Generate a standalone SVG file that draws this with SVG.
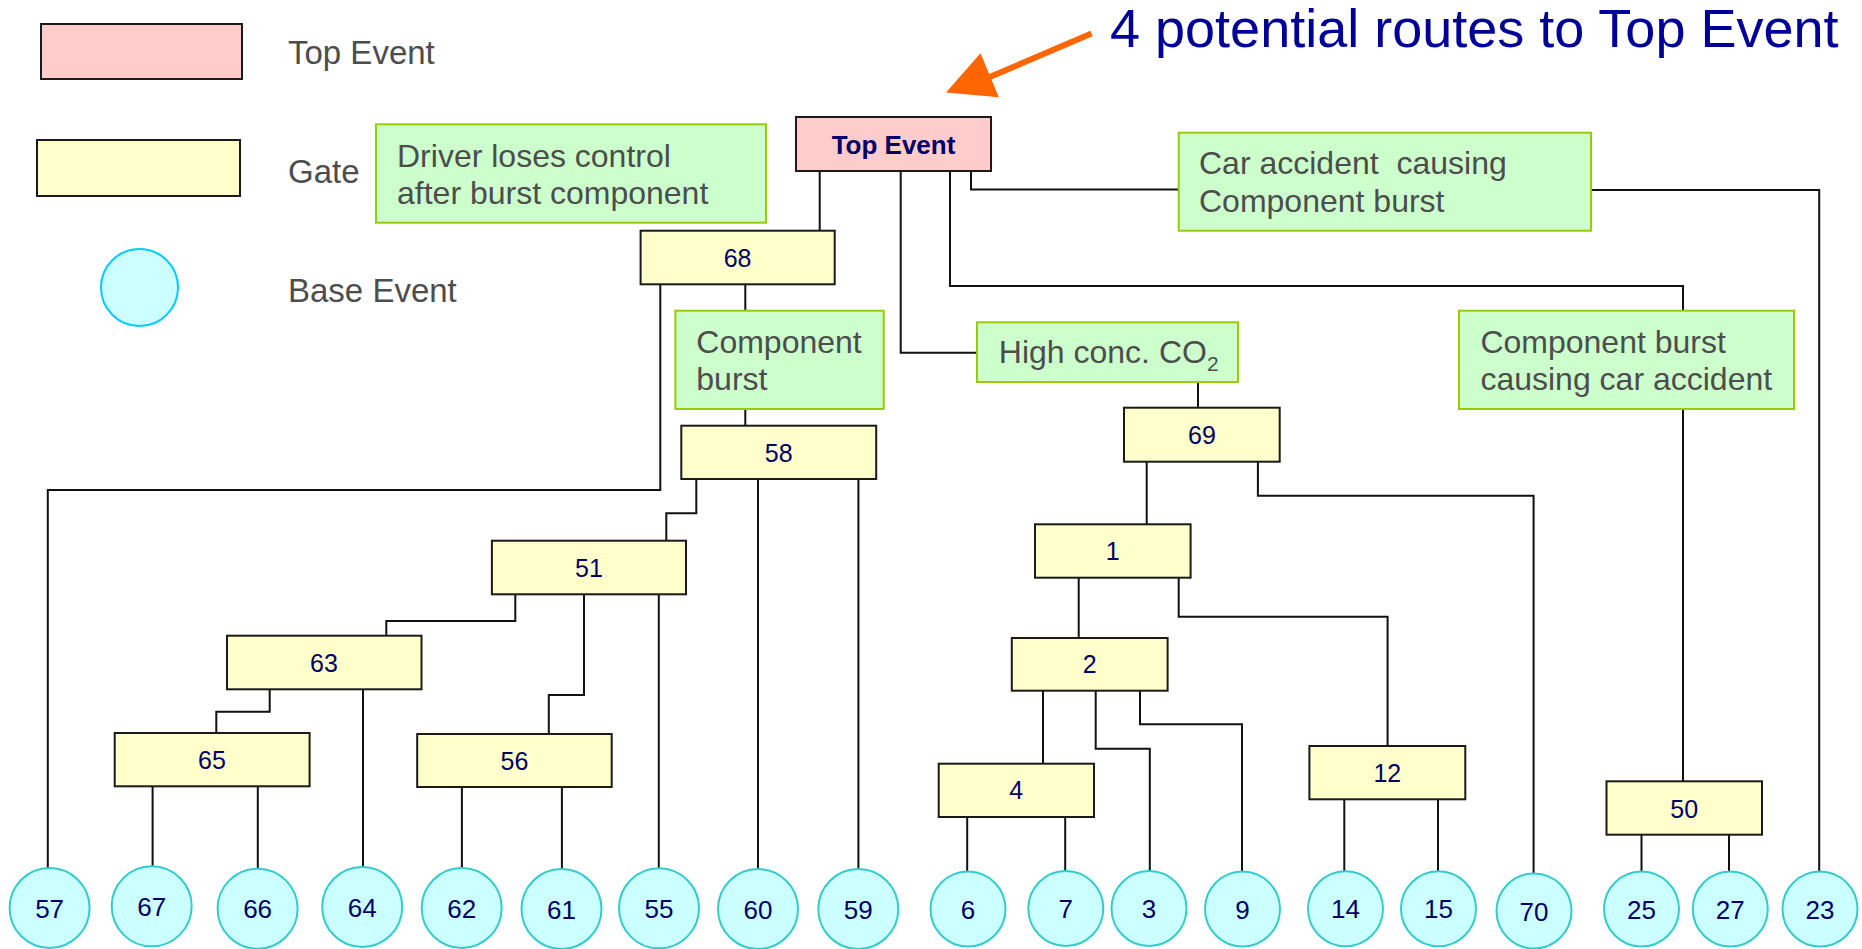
<svg xmlns="http://www.w3.org/2000/svg" width="1862" height="949" viewBox="0 0 1862 949">
  <style>
    .bg { fill: #ffffff; }
    .top { fill: #ffcccc; stroke: #1a1a1a; stroke-width: 2; }
    .gate { fill: #ffffcc; stroke: #1a1a1a; stroke-width: 2; }
    .note { fill: #ccffcc; stroke: #99cc00; stroke-width: 2; }
    .base { fill: #ccffff; stroke: #33cccc; stroke-width: 2; }
    .legend-base { fill: #ccffff; stroke: #00ccff; stroke-width: 2; }
    .wire { fill: none; stroke: #111111; stroke-width: 2; }
    .lg { font-family: "Liberation Sans", Arial, sans-serif; font-size: 33px; fill: #4d4d4d; }
    .nt { font-family: "Liberation Sans", Arial, sans-serif; font-size: 32px; fill: #4d4d4d; white-space: pre; }
    .num { font-family: "Liberation Sans", Arial, sans-serif; font-size: 25px; fill: #000066; text-anchor: middle; }
    .bnum { font-family: "Liberation Sans", Arial, sans-serif; font-size: 26px; fill: #000066; text-anchor: middle; }
    .title { font-family: "Liberation Sans", Arial, sans-serif; font-size: 54px; fill: #000099; }
    .toplbl { font-family: "Liberation Sans", Arial, sans-serif; font-size: 26px; font-weight: bold; fill: #000066; text-anchor: middle; }
  </style>
  <rect class="bg" x="0" y="0" width="1862" height="949"/>

  <!-- legend -->
  <g id="legend">
    <rect class="top" x="41" y="24" width="201" height="55"/>
    <text class="lg" x="288" y="63.5">Top Event</text>
    <rect class="gate" x="37" y="140" width="203" height="56"/>
    <text class="lg" x="288" y="183">Gate</text>
    <circle class="legend-base" cx="139.5" cy="287.5" r="38.5"/>
    <text class="lg" x="288" y="302">Base Event</text>
  </g>

  <!-- headline with pointer -->
  <g id="headline">
    <text class="title" x="1110" y="47">4 potential routes to Top Event</text>
    <line x1="1091.5" y1="33.5" x2="985" y2="79" stroke="#ff6600" stroke-width="6"/>
    <polygon points="946,92.5 980.5,53.3 998.8,97.3" fill="#ff6600"/>
  </g>

  <!-- connectors -->
  <g id="connectors" class="wire">
    <path class="wire" d="M819.7 171 V230.7"/>
    <path class="wire" d="M900.7 171 V352.7 H977"/>
    <path class="wire" d="M950 171 V286 H1683 V310.7"/>
    <path class="wire" d="M971 171 V189.5 H1178.7"/>
    <path class="wire" d="M1591 190 H1819.2 V871.5"/>
    <path class="wire" d="M660.3 284.3 V490 H47.8 V868"/>
    <path class="wire" d="M745.3 284.3 V310.7"/>
    <path class="wire" d="M745.3 409 V425.7"/>
    <path class="wire" d="M696.3 479 V513.3 H666.3 V540.7"/>
    <path class="wire" d="M758 479 V869"/>
    <path class="wire" d="M858.4 479 V869"/>
    <path class="wire" d="M515.3 594.3 V621 H386.3 V635.7"/>
    <path class="wire" d="M584 594.3 V695 H548.8 V734"/>
    <path class="wire" d="M658.8 594.3 V868.3"/>
    <path class="wire" d="M269.7 689.3 V711.7 H216.3 V733"/>
    <path class="wire" d="M363 689.3 V867"/>
    <path class="wire" d="M152.6 786.3 V866.5"/>
    <path class="wire" d="M257.8 786.3 V869"/>
    <path class="wire" d="M461.9 787 V869"/>
    <path class="wire" d="M561.9 787 V870"/>
    <path class="wire" d="M1198 382 V407.7"/>
    <path class="wire" d="M1146.7 461.7 V524.3"/>
    <path class="wire" d="M1257.9 461.7 V495.7 H1533.6 V874"/>
    <path class="wire" d="M1078.7 577.7 V638"/>
    <path class="wire" d="M1178.7 577.7 V616.7 H1387.6 V746"/>
    <path class="wire" d="M1043 690.7 V763.7"/>
    <path class="wire" d="M1095.7 690.7 V748.7 H1149.8 V871"/>
    <path class="wire" d="M1140 690.7 V724.3 H1242 V871.5"/>
    <path class="wire" d="M967.2 817 V871.5"/>
    <path class="wire" d="M1065.2 817 V871"/>
    <path class="wire" d="M1344.3 799.3 V871.5"/>
    <path class="wire" d="M1438 799.3 V871.5"/>
    <path class="wire" d="M1683 409 V781.3"/>
    <path class="wire" d="M1641.5 834.7 V871.5"/>
    <path class="wire" d="M1729 834.7 V871.5"/>
  </g>

  <!-- top event -->
  <g id="top-event">
    <rect class="top" x="796" y="117" width="195" height="54"/>
    <text class="toplbl" x="893.5" y="154">Top Event</text>
  </g>

  <!-- notes -->
  <g id="note-driver">
    <rect class="note" x="376" y="124.3" width="390" height="98.4"/>
    <text class="nt" x="397" y="166.7">Driver loses control</text>
    <text class="nt" x="397" y="204">after burst component</text>
  </g>
  <g id="note-car-accident">
    <rect class="note" x="1178.7" y="132.7" width="412.3" height="98"/>
    <text class="nt" x="1199" y="174">Car accident  causing</text>
    <text class="nt" x="1199" y="212">Component burst</text>
  </g>
  <g id="note-component-burst">
    <rect class="note" x="675.4" y="310.7" width="208.3" height="98.3"/>
    <text class="nt" x="696.3" y="352.7">Component</text>
    <text class="nt" x="696.3" y="390">burst</text>
  </g>
  <g id="note-co2">
    <rect class="note" x="977" y="322.3" width="261" height="59.7"/>
    <text class="nt" x="998.8" y="363.3">High conc. CO<tspan font-size="21" dy="8">2</tspan></text>
  </g>
  <g id="note-burst-accident">
    <rect class="note" x="1459" y="310.7" width="335" height="98.3"/>
    <text class="nt" x="1480.4" y="352.7">Component burst</text>
    <text class="nt" x="1480.4" y="390">causing car accident</text>
  </g>

  <!-- gates -->
  <g id="gate-68"><rect class="gate" x="640.6" y="230.7" width="194.1" height="53.6"/><text class="num" x="737.6" y="266.7">68</text></g>
  <g id="gate-58"><rect class="gate" x="681.3" y="425.7" width="194.9" height="53.3"/><text class="num" x="778.7" y="461.7">58</text></g>
  <g id="gate-51"><rect class="gate" x="491.9" y="540.7" width="194.1" height="53.6"/><text class="num" x="589" y="576.7">51</text></g>
  <g id="gate-63"><rect class="gate" x="227" y="635.7" width="194.5" height="53.6"/><text class="num" x="324" y="671.7">63</text></g>
  <g id="gate-65"><rect class="gate" x="114.7" y="733" width="194.9" height="53.3"/><text class="num" x="212" y="769.3">65</text></g>
  <g id="gate-56"><rect class="gate" x="417.2" y="734" width="194.5" height="53"/><text class="num" x="514.5" y="770">56</text></g>
  <g id="gate-69"><rect class="gate" x="1124" y="407.7" width="155.7" height="54"/><text class="num" x="1201.9" y="443.7">69</text></g>
  <g id="gate-1"><rect class="gate" x="1035" y="524.3" width="155.6" height="53.4"/><text class="num" x="1112.8" y="560.3">1</text></g>
  <g id="gate-2"><rect class="gate" x="1011.8" y="638" width="155.8" height="52.7"/><text class="num" x="1089.7" y="673.3">2</text></g>
  <g id="gate-4"><rect class="gate" x="938.7" y="763.7" width="155.3" height="53.3"/><text class="num" x="1016.3" y="799.3">4</text></g>
  <g id="gate-12"><rect class="gate" x="1309.4" y="746" width="155.9" height="53.3"/><text class="num" x="1387.3" y="781.7">12</text></g>
  <g id="gate-50"><rect class="gate" x="1606.5" y="781.3" width="155.5" height="53.4"/><text class="num" x="1684.2" y="818">50</text></g>

  <!-- base events -->
  <g id="base-57"><circle class="base" cx="49.6" cy="908" r="40"/><text class="bnum" x="49.6" y="917.5">57</text></g>
  <g id="base-67"><circle class="base" cx="151.7" cy="906.3" r="40"/><text class="bnum" x="151.7" y="915.8">67</text></g>
  <g id="base-66"><circle class="base" cx="257.6" cy="908.7" r="40"/><text class="bnum" x="257.6" y="918.2">66</text></g>
  <g id="base-64"><circle class="base" cx="362.2" cy="907" r="40"/><text class="bnum" x="362.2" y="916.5">64</text></g>
  <g id="base-62"><circle class="base" cx="461.7" cy="908" r="40"/><text class="bnum" x="461.7" y="917.5">62</text></g>
  <g id="base-61"><circle class="base" cx="561.5" cy="909" r="40"/><text class="bnum" x="561.5" y="918.5">61</text></g>
  <g id="base-55"><circle class="base" cx="659" cy="908.3" r="40"/><text class="bnum" x="659" y="917.8">55</text></g>
  <g id="base-60"><circle class="base" cx="758" cy="909" r="40"/><text class="bnum" x="758" y="918.5">60</text></g>
  <g id="base-59"><circle class="base" cx="858.3" cy="909" r="40"/><text class="bnum" x="858.3" y="918.5">59</text></g>
  <g id="base-6"><circle class="base" cx="968" cy="909" r="37.5"/><text class="bnum" x="968" y="918.5">6</text></g>
  <g id="base-7"><circle class="base" cx="1065.8" cy="908.5" r="37.5"/><text class="bnum" x="1065.8" y="918">7</text></g>
  <g id="base-3"><circle class="base" cx="1149" cy="908.5" r="37.5"/><text class="bnum" x="1149" y="918">3</text></g>
  <g id="base-9"><circle class="base" cx="1242.5" cy="909" r="37.5"/><text class="bnum" x="1242.5" y="918.5">9</text></g>
  <g id="base-14"><circle class="base" cx="1345.5" cy="908.8" r="37.5"/><text class="bnum" x="1345.5" y="918.3">14</text></g>
  <g id="base-15"><circle class="base" cx="1438.5" cy="908.8" r="37.5"/><text class="bnum" x="1438.5" y="918.3">15</text></g>
  <g id="base-70"><circle class="base" cx="1534" cy="911" r="37.5"/><text class="bnum" x="1534" y="920.5">70</text></g>
  <g id="base-25"><circle class="base" cx="1641.5" cy="909" r="37.5"/><text class="bnum" x="1641.5" y="918.5">25</text></g>
  <g id="base-27"><circle class="base" cx="1730.3" cy="909" r="37.5"/><text class="bnum" x="1730.3" y="918.5">27</text></g>
  <g id="base-23"><circle class="base" cx="1820" cy="909" r="37.5"/><text class="bnum" x="1820" y="918.5">23</text></g>
</svg>
